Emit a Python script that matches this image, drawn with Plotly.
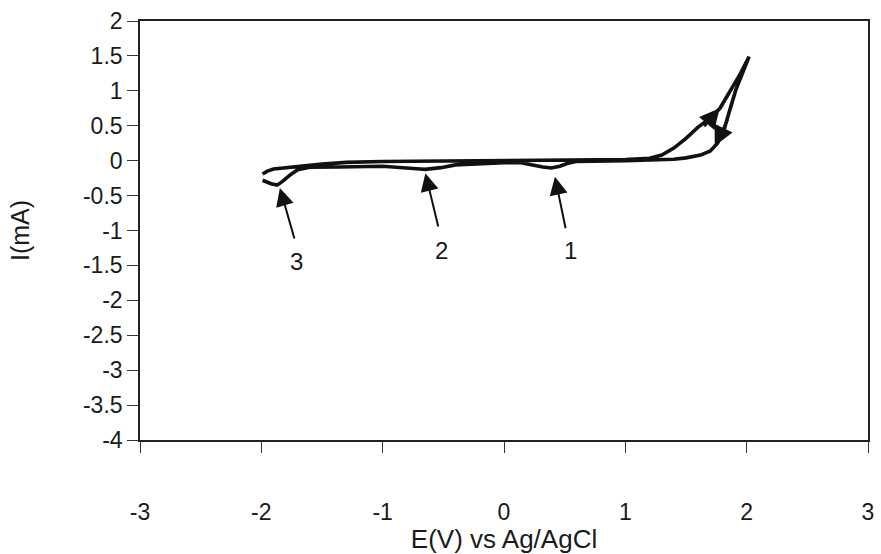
import plotly.graph_objects as go

# Forward sweep (-2 V -> +2 V)
fwd_E = [-1.99, -1.95, -1.90, -1.80, -1.70, -1.50, -1.30, -1.00, -0.50, 0.00, 0.50, 1.00, 1.20,
         1.30, 1.40, 1.50, 1.60, 1.70, 1.78, 1.86, 1.94, 2.02]
fwd_I = [-0.19, -0.15, -0.12, -0.10, -0.085, -0.05, -0.025, -0.012, -0.005, 0.0, 0.005, 0.015, 0.035,
         0.08, 0.18, 0.32, 0.48, 0.61, 0.75, 0.99, 1.22, 1.49]
# Reverse sweep (+2 V -> -2 V)
rev_E = [2.02, 1.96, 1.91, 1.86, 1.81, 1.76, 1.70, 1.62, 1.50, 1.40, 1.26, 1.00, 0.60, 0.52, 0.46,
         0.39, 0.32, 0.24, 0.14, 0.00, -0.20, -0.40, -0.52, -0.60, -0.65, -0.72, -0.82, -1.00,
         -1.36, -1.60, -1.70, -1.76, -1.82, -1.87, -1.92, -1.96, -1.99]
rev_I = [1.49, 1.22, 1.01, 0.72, 0.42, 0.25, 0.14, 0.08, 0.04, 0.02, 0.01, 0.0, -0.01, -0.04, -0.08,
         -0.105, -0.09, -0.06, -0.03, -0.03, -0.04, -0.06, -0.10, -0.12, -0.125, -0.115, -0.10, -0.08,
         -0.09, -0.095, -0.13, -0.20, -0.29, -0.35, -0.33, -0.30, -0.28]

# Tick values and labels (hyphen-minus as in the original)
x_ticks = [-3, -2, -1, 0, 1, 2, 3]
x_tick_labels = ["-3", "-2", "-1", "0", "1", "2", "3"]
y_ticks = [2, 1.5, 1, 0.5, 0, -0.5, -1, -1.5, -2, -2.5, -3, -3.5, -4]
y_tick_labels = ["2", "1.5", "1", "0.5", "0", "-0.5", "-1", "-1.5", "-2", "-2.5", "-3", "-3.5", "-4"]

# Peak markers: label, tip (E, I), tail (E, I), label position (E, I)
peak_labels = ["1", "2", "3"]
peak_tip_E = [0.42, -0.648, -1.847]
peak_tip_I = [-0.23, -0.18, -0.39]
peak_tail_E = [0.51, -0.539, -1.724]
peak_tail_I = [-0.99, -0.964, -1.136]
peak_lab_E = [0.55, -0.514, -1.71]
peak_lab_I = [-1.28, -1.28, -1.45]

# Sweep-direction arrows on the curve: tip and tail
dir_tip_E = [1.778, 1.737]
dir_tip_I = [0.75, 0.21]
dir_tail_E = [1.64, 1.85]
dir_tail_I = [0.47, 0.61]

E = fwd_E + rev_E
I = fwd_I + rev_I

ink = "#1a1a1a"
fig = go.Figure()
fig.add_trace(go.Scatter(x=E, y=I, mode="lines",
                         line=dict(color="#111111", width=3.6),
                         showlegend=False, hoverinfo="skip"))

for lab, tx, ty, ax, ay, lx, ly in zip(peak_labels, peak_tip_E, peak_tip_I, peak_tail_E,
                                       peak_tail_I, peak_lab_E, peak_lab_I):
    fig.add_annotation(x=tx, y=ty, ax=ax, ay=ay, xref="x", yref="y", axref="x", ayref="y",
                       text="", showarrow=True, arrowhead=2, arrowsize=1.8, arrowwidth=2,
                       arrowcolor="#111111")
    fig.add_annotation(x=lx, y=ly, xref="x", yref="y", text=lab, showarrow=False,
                       font=dict(size=24, color=ink, family="Arial"))

for tx, ty, ax, ay in zip(dir_tip_E, dir_tip_I, dir_tail_E, dir_tail_I):
    fig.add_annotation(x=tx, y=ty, ax=ax, ay=ay, xref="x", yref="y", axref="x", ayref="y",
                       text="", showarrow=True, arrowhead=2, arrowsize=1.6, arrowwidth=2.5,
                       arrowcolor="#111111")

axis_font = dict(size=23, color=ink, family="Arial")
fig.update_xaxes(range=[-3, 3], tickvals=x_ticks, ticktext=x_tick_labels,
                 showgrid=False, zeroline=False,
                 showline=True, linecolor="#222222", linewidth=1.6, mirror=True,
                 ticks="outside", ticklen=11, tickwidth=1.2, tickcolor="#333333",
                 tickfont=axis_font, ticklabelstandoff=40,
                 title=dict(text="E(V) vs Ag/AgCl", font=dict(size=26, color=ink, family="Arial"),
                            standoff=0))
fig.update_yaxes(range=[-4, 2], tickvals=y_ticks, ticktext=y_tick_labels,
                 showgrid=False, zeroline=False,
                 showline=True, linecolor="#222222", linewidth=1.6, mirror=True,
                 ticks="outside", ticklen=11, tickwidth=1.2, tickcolor="#333333",
                 tickfont=axis_font,
                 title=dict(text="I(mA)", font=dict(size=25, color=ink, family="Arial"),
                            standoff=46))
fig.update_layout(width=881, height=554, margin=dict(l=140, r=7, t=21, b=114),
                  paper_bgcolor="white", plot_bgcolor="white")
fig.write_html("out.html")
